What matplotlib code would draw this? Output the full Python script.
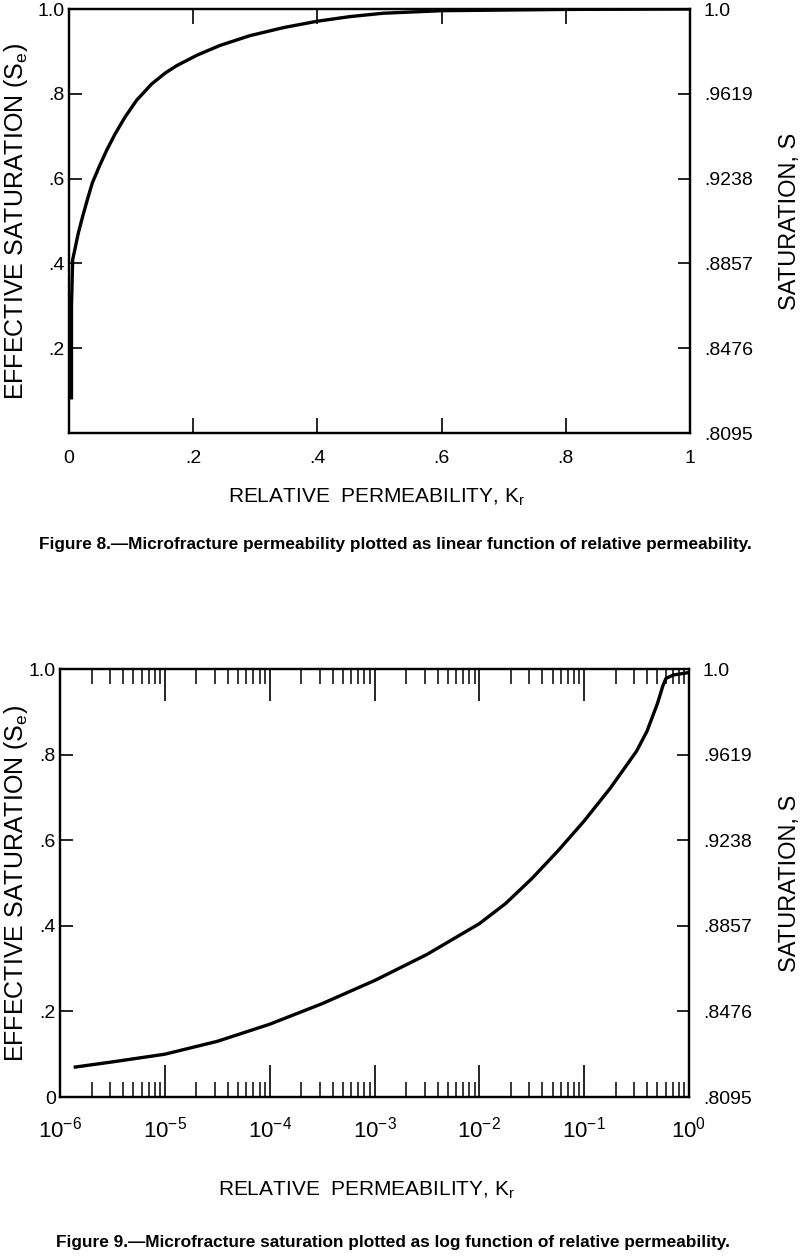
import matplotlib
matplotlib.use('Agg')
import matplotlib.pyplot as plt
from matplotlib import font_manager
from matplotlib.ticker import LogLocator, NullFormatter, FixedLocator

plt.rcParams['font.family'] = ['Liberation Sans', 'DejaVu Sans']
plt.rcParams['mathtext.fontset'] = 'custom'
plt.rcParams['mathtext.rm'] = 'Liberation Sans'
plt.rcParams['mathtext.it'] = 'Liberation Sans:italic'
plt.rcParams['mathtext.bf'] = 'Liberation Sans:bold'

# ---------------- data ----------------
# Figure 8: linear relative permeability vs effective saturation
kr_lin = [0.004, 0.004, 0.0059, 0.0150, 0.0220, 0.0295, 0.0376, 0.0483, 0.0607,
          0.0741, 0.0902, 0.109, 0.133, 0.155, 0.173, 0.206, 0.243, 0.291, 0.345,
          0.399, 0.452, 0.506, 0.600, 0.800, 1.000]
se_lin = [0.083, 0.300, 0.4085, 0.4715, 0.5108, 0.550, 0.590, 0.627, 0.667,
          0.705, 0.745, 0.785, 0.823, 0.849, 0.866, 0.891, 0.914, 0.937, 0.956,
          0.971, 0.982, 0.990, 0.996, 0.999, 1.000]

# Figure 9: log relative permeability vs effective saturation
kr_log = [1.4e-6, 3.16e-6, 1.0e-5, 3.16e-5, 1.0e-4, 3.16e-4, 1.0e-3, 3.16e-3,
          1.0e-2, 1.78e-2, 3.16e-2, 5.62e-2, 0.100, 0.178, 0.316, 0.398, 0.501,
          0.562, 0.603, 0.708, 0.955]
se_log = [0.070, 0.082, 0.100, 0.130, 0.170, 0.218, 0.272, 0.333,
          0.405, 0.452, 0.510, 0.575, 0.645, 0.722, 0.808, 0.855, 0.920,
          0.960, 0.978, 0.986, 0.991]

se_ticks = [0.0, 0.2, 0.4, 0.6, 0.8, 1.0]
se_labels = ['0', '.2', '.4', '.6', '.8', '1.0']
s_ticks = [0.8095, 0.8476, 0.8857, 0.9238, 0.9619, 1.0]
s_labels = ['.8095', '.8476', '.8857', '.9238', '.9619', '1.0']
kr_lin_ticks = [0, 0.2, 0.4, 0.6, 0.8, 1.0]
kr_lin_labels = ['0', '.2', '.4', '.6', '.8', '1']
kr_log_ticks = [1e-6, 1e-5, 1e-4, 1e-3, 1e-2, 1e-1, 1e0]
kr_log_labels = [r'$\mathregular{10^{-6}}$', r'$\mathregular{10^{-5}}$', r'$\mathregular{10^{-4}}$',
                 r'$\mathregular{10^{-3}}$', r'$\mathregular{10^{-2}}$', r'$\mathregular{10^{-1}}$',
                 r'$\mathregular{10^{0}}$']

ylabel_left = r'EFFECTIVE SATURATION (S$_\mathregular{e}$)'
ylabel_right = 'SATURATION, S'
xlabel = r'RELATIVE  PERMEABILITY, K$_\mathregular{r}$'
caption8 = 'Figure 8.\u2014Microfracture permeability plotted as linear function of relative permeability.'
caption9 = 'Figure 9.\u2014Microfracture saturation plotted as log function of relative permeability.'

# ---------------- figure ----------------
W, H = 800, 1256
fig = plt.figure(figsize=(W / 100, H / 100), dpi=100)

def narrow_family():
    try:
        font_manager.findfont('Liberation Sans Narrow', fallback_to_default=False)
        return ['Liberation Sans Narrow', 'Liberation Sans'], True
    except Exception:
        return ['Liberation Sans'], False

cap_family, has_narrow = narrow_family()
cap_size = 15.0 if has_narrow else 12.4

def style_axes(ax):
    for sp in ax.spines.values():
        sp.set_linewidth(1.6)
        sp.set_color('black')

# ---- Figure 8 ----
ax1 = fig.add_axes([69 / W, 1 - 433 / H, 621 / W, 424 / H])
ax1.plot(kr_lin, se_lin, color='black', lw=2.4, solid_joinstyle='round')
ax1.set_xlim(0, 1)
ax1.set_ylim(0, 1)
ax1.set_xticks(kr_lin_ticks)
ax1.set_xticklabels(kr_lin_labels)
ax1.set_yticks(se_ticks[1:])
ax1.set_yticklabels(se_labels[1:])
ax1.tick_params(axis='x', direction='in', length=11, width=1.2, top=True,
                labelsize=14, pad=12)
ax1.tick_params(axis='y', direction='in', length=9, width=1.2, labelsize=14, pad=3)
style_axes(ax1)
ax1r = ax1.twinx()
ax1r.set_ylim(s_ticks[0], s_ticks[-1])
ax1r.set_yticks(s_ticks)
ax1r.set_yticklabels(s_labels)
ax1r.tick_params(axis='y', direction='in', length=9, width=1.2, labelsize=14, pad=10)
style_axes(ax1r)

fig.text(16 / W, 1 - 221 / H, ylabel_left, rotation=90, ha='center', va='center', fontsize=18)
fig.text(790 / W, 1 - 221 / H, ylabel_right, rotation=90, ha='center', va='center', fontsize=17)
fig.text(376 / W, 1 - 497 / H, xlabel, ha='center', va='center', fontsize=15)
fig.text(395 / W, 1 - 545 / H, caption8, ha='center', va='center', fontsize=cap_size,
         fontweight='bold', family=cap_family)

# ---- Figure 9 ----
ax2 = fig.add_axes([60 / W, 1 - 1097 / H, 629 / W, 428 / H])
ax2.set_xscale('log')
ax2.plot(kr_log, se_log, color='black', lw=2.4, solid_joinstyle='round')
ax2.set_xlim(1e-6, 1)
ax2.set_ylim(0, 1)
ax2.xaxis.set_major_locator(FixedLocator(kr_log_ticks))
ax2.set_xticklabels(kr_log_labels)
ax2.xaxis.set_minor_locator(LogLocator(base=10, subs=[2, 3, 4, 5, 6, 7, 8, 9], numticks=20))
ax2.xaxis.set_minor_formatter(NullFormatter())
ax2.set_yticks(se_ticks)
ax2.set_yticklabels(se_labels)
ax2.tick_params(axis='x', which='major', direction='in', length=23, width=1.2, top=True,
                labelsize=16, pad=14)
ax2.tick_params(axis='x', which='minor', direction='in', length=11, width=1.1, top=True)
ax2.tick_params(axis='y', direction='in', length=9, width=1.2, labelsize=14, pad=3)
style_axes(ax2)
ax2r = ax2.twinx()
ax2r.set_ylim(s_ticks[0], s_ticks[-1])
ax2r.set_yticks(s_ticks)
ax2r.set_yticklabels(s_labels)
ax2r.tick_params(axis='y', direction='in', length=9, width=1.2, labelsize=14, pad=10)
style_axes(ax2r)

fig.text(16 / W, 1 - 883 / H, ylabel_left, rotation=90, ha='center', va='center', fontsize=18)
fig.text(790 / W, 1 - 883 / H, ylabel_right, rotation=90, ha='center', va='center', fontsize=17)
fig.text(366 / W, 1 - 1190 / H, xlabel, ha='center', va='center', fontsize=15)
fig.text(393 / W, 1 - 1242 / H, caption9, ha='center', va='center', fontsize=cap_size,
         fontweight='bold', family=cap_family)

fig.savefig('out.png', dpi=100, facecolor='white')
